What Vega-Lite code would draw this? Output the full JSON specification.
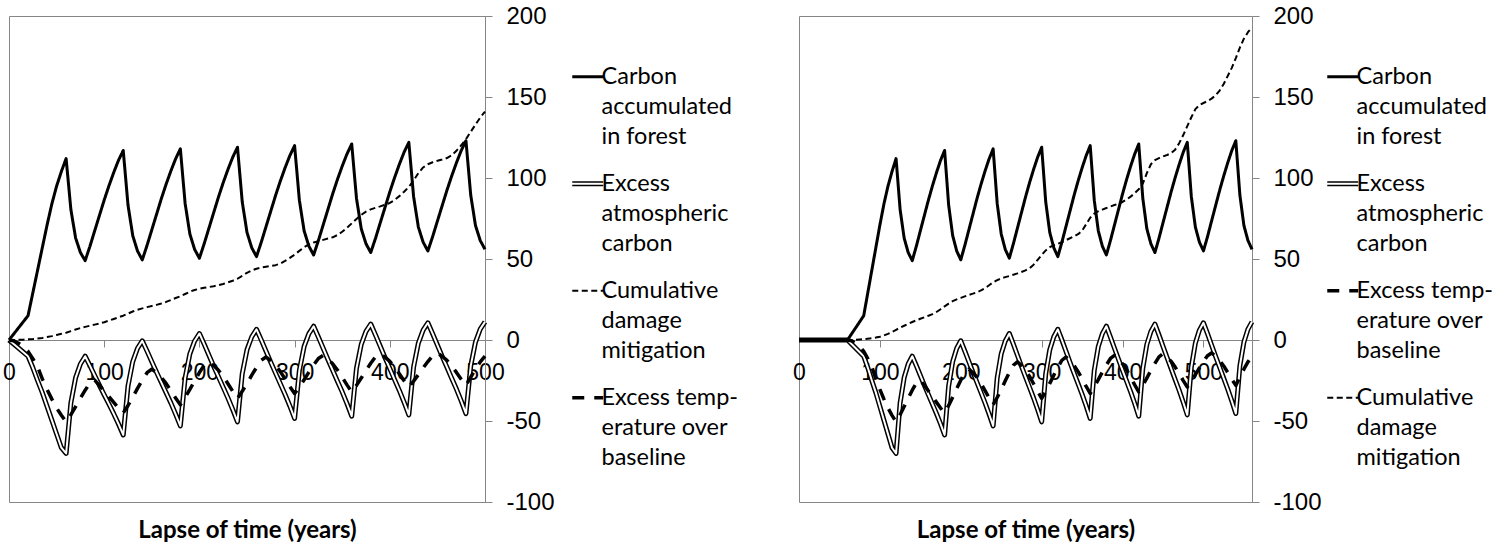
{
  "$schema": "https://vega.github.io/schema/vega-lite/v6.json",
  "background": "white",
  "padding": {"left": 2, "top": 3, "right": 0, "bottom": 0},
  "datasets": {
    "left": [
      {"t":0,"carbon":0,"atm":0,"cum":0,"temp":0},
      {"t":5,"carbon":null,"atm":null,"cum":0,"temp":-0.5},
      {"t":10,"carbon":null,"atm":null,"cum":0.1,"temp":-2},
      {"t":15,"carbon":null,"atm":null,"cum":0.2,"temp":-4},
      {"t":20,"carbon":15,"atm":-10,"cum":0.4,"temp":-7},
      {"t":25,"carbon":29,"atm":-17,"cum":0.6,"temp":-11.5},
      {"t":30,"carbon":43,"atm":-25,"cum":0.9,"temp":-16.5},
      {"t":35,"carbon":57,"atm":-32.5,"cum":1.3,"temp":-24},
      {"t":40,"carbon":71,"atm":-41,"cum":1.8,"temp":-30.5},
      {"t":45,"carbon":84,"atm":-49.5,"cum":2.4,"temp":-36.5},
      {"t":50,"carbon":95,"atm":-58,"cum":3.1,"temp":-42},
      {"t":55,"carbon":104,"atm":-66.5,"cum":3.8,"temp":-46.5},
      {"t":60,"carbon":112,"atm":-70,"cum":4.5,"temp":-50.5},
      {"t":65,"carbon":80.5,"atm":-38.8,"cum":5.5,"temp":-46.1},
      {"t":70,"carbon":62.9,"atm":-23.2,"cum":6.5,"temp":-41.1},
      {"t":75,"carbon":54,"atm":-14.8,"cum":7.4,"temp":-35.9},
      {"t":80,"carbon":49,"atm":-10,"cum":8.1,"temp":-31},
      {"t":85,"carbon":57.8,"atm":-15.8,"cum":8.8,"temp":-26.6},
      {"t":90,"carbon":67.4,"atm":-21.9,"cum":9.5,"temp":-24.8},
      {"t":95,"carbon":76.9,"atm":-28,"cum":10.2,"temp":-28},
      {"t":100,"carbon":86.4,"atm":-33.8,"cum":11,"temp":-31.5},
      {"t":105,"carbon":95.2,"atm":-39.6,"cum":12,"temp":-35},
      {"t":110,"carbon":103.4,"atm":-45.5,"cum":13,"temp":-38.5},
      {"t":115,"carbon":110.9,"atm":-51.8,"cum":14,"temp":-42},
      {"t":120,"carbon":117,"atm":-58.6,"cum":15,"temp":-45},
      {"t":125,"carbon":83.3,"atm":-28.4,"cum":16.3,"temp":-40.4},
      {"t":130,"carbon":64.4,"atm":-13.3,"cum":17.6,"temp":-35.3},
      {"t":135,"carbon":54.9,"atm":-5.1,"cum":18.7,"temp":-29.9},
      {"t":140,"carbon":49.5,"atm":-0.5,"cum":19.5,"temp":-24.8},
      {"t":145,"carbon":58.4,"atm":-6.8,"cum":20.3,"temp":-20.2},
      {"t":150,"carbon":68,"atm":-13.4,"cum":21,"temp":-18},
      {"t":155,"carbon":77.6,"atm":-19.9,"cum":21.7,"temp":-20.2},
      {"t":160,"carbon":87.2,"atm":-26.2,"cum":22.5,"temp":-23.1},
      {"t":165,"carbon":96.1,"atm":-32.5,"cum":23.5,"temp":-26.8},
      {"t":170,"carbon":104.3,"atm":-38.8,"cum":24.7,"temp":-31.2},
      {"t":175,"carbon":111.8,"atm":-45.7,"cum":25.9,"temp":-35.8},
      {"t":180,"carbon":118,"atm":-53,"cum":27,"temp":-40},
      {"t":185,"carbon":84.3,"atm":-23.4,"cum":28.4,"temp":-35.5},
      {"t":190,"carbon":65.4,"atm":-8.5,"cum":29.8,"temp":-30.5},
      {"t":195,"carbon":55.9,"atm":-0.6,"cum":30.9,"temp":-25.2},
      {"t":200,"carbon":50.5,"atm":4,"cum":31.6,"temp":-20.1},
      {"t":205,"carbon":59.4,"atm":-2.5,"cum":32.2,"temp":-15.6},
      {"t":210,"carbon":69,"atm":-9.4,"cum":32.7,"temp":-13.5},
      {"t":215,"carbon":78.6,"atm":-16.2,"cum":33.2,"temp":-15.8},
      {"t":220,"carbon":88.2,"atm":-22.7,"cum":33.8,"temp":-18.7},
      {"t":225,"carbon":97.1,"atm":-29.2,"cum":34.6,"temp":-22.5},
      {"t":230,"carbon":105.3,"atm":-35.8,"cum":35.6,"temp":-27},
      {"t":235,"carbon":112.8,"atm":-42.9,"cum":36.6,"temp":-31.7},
      {"t":240,"carbon":119,"atm":-50.5,"cum":37.8,"temp":-36},
      {"t":245,"carbon":85.3,"atm":-20.8,"cum":39.6,"temp":-31.7},
      {"t":250,"carbon":66.4,"atm":-6,"cum":41.5,"temp":-26.8},
      {"t":255,"carbon":56.9,"atm":2,"cum":43,"temp":-21.7},
      {"t":260,"carbon":51.5,"atm":6.6,"cum":44,"temp":-16.9},
      {"t":265,"carbon":60.4,"atm":0,"cum":44.7,"temp":-12.5},
      {"t":270,"carbon":70,"atm":-6.9,"cum":45.2,"temp":-10.5},
      {"t":275,"carbon":79.6,"atm":-13.8,"cum":45.7,"temp":-12.8},
      {"t":280,"carbon":89.2,"atm":-20.4,"cum":46.2,"temp":-15.7},
      {"t":285,"carbon":98.1,"atm":-27,"cum":47.2,"temp":-19.5},
      {"t":290,"carbon":106.3,"atm":-33.6,"cum":48.8,"temp":-24},
      {"t":295,"carbon":113.8,"atm":-40.7,"cum":50.7,"temp":-28.7},
      {"t":300,"carbon":120,"atm":-48.4,"cum":52.7,"temp":-33},
      {"t":305,"carbon":86.3,"atm":-18.8,"cum":55,"temp":-29},
      {"t":310,"carbon":67.4,"atm":-4,"cum":57.3,"temp":-24.5},
      {"t":315,"carbon":57.9,"atm":3.9,"cum":59,"temp":-19.8},
      {"t":320,"carbon":52.5,"atm":8.5,"cum":60.2,"temp":-15.4},
      {"t":325,"carbon":61.4,"atm":1.8,"cum":61,"temp":-11.4},
      {"t":330,"carbon":71,"atm":-5.1,"cum":61.8,"temp":-9.5},
      {"t":335,"carbon":80.6,"atm":-12,"cum":62.6,"temp":-11.8},
      {"t":340,"carbon":90.2,"atm":-18.7,"cum":63.4,"temp":-14.7},
      {"t":345,"carbon":99.1,"atm":-25.4,"cum":64.8,"temp":-18.5},
      {"t":350,"carbon":107.3,"atm":-32,"cum":66.8,"temp":-23},
      {"t":355,"carbon":114.8,"atm":-39.2,"cum":69.3,"temp":-27.7},
      {"t":360,"carbon":121,"atm":-47,"cum":72,"temp":-32},
      {"t":365,"carbon":87.5,"atm":-17.5,"cum":74.7,"temp":-28},
      {"t":370,"carbon":68.7,"atm":-2.7,"cum":77.2,"temp":-23.5},
      {"t":375,"carbon":59.4,"atm":5.3,"cum":79.2,"temp":-18.8},
      {"t":380,"carbon":54,"atm":9.8,"cum":80.6,"temp":-14.4},
      {"t":385,"carbon":62.8,"atm":3.1,"cum":81.6,"temp":-10.4},
      {"t":390,"carbon":72.4,"atm":-3.9,"cum":82.5,"temp":-8.5},
      {"t":395,"carbon":81.9,"atm":-10.9,"cum":83.5,"temp":-10.6},
      {"t":400,"carbon":91.4,"atm":-17.6,"cum":84.6,"temp":-13.2},
      {"t":405,"carbon":100.2,"atm":-24.4,"cum":86.4,"temp":-16.7},
      {"t":410,"carbon":108.4,"atm":-31.1,"cum":88.8,"temp":-20.8},
      {"t":415,"carbon":115.9,"atm":-38.4,"cum":91.5,"temp":-25.1},
      {"t":420,"carbon":122,"atm":-46.2,"cum":94.5,"temp":-29},
      {"t":425,"carbon":88.5,"atm":-16.7,"cum":98.5,"temp":-25.4},
      {"t":430,"carbon":69.7,"atm":-1.9,"cum":103,"temp":-21.4},
      {"t":435,"carbon":60.4,"atm":6.1,"cum":106.5,"temp":-17.2},
      {"t":440,"carbon":55,"atm":10.6,"cum":108.5,"temp":-13.3},
      {"t":445,"carbon":63.8,"atm":3.9,"cum":109.7,"temp":-9.7},
      {"t":450,"carbon":73.4,"atm":-3.1,"cum":110.6,"temp":-8},
      {"t":455,"carbon":82.9,"atm":-10.1,"cum":111.4,"temp":-10},
      {"t":460,"carbon":92.4,"atm":-16.8,"cum":112.3,"temp":-12.6},
      {"t":465,"carbon":101.2,"atm":-23.6,"cum":114,"temp":-16},
      {"t":470,"carbon":109.4,"atm":-30.3,"cum":116.8,"temp":-20},
      {"t":475,"carbon":116.9,"atm":-37.6,"cum":120.2,"temp":-24.2},
      {"t":480,"carbon":123,"atm":-45.4,"cum":124,"temp":-28},
      {"t":485,"carbon":89.5,"atm":-16,"cum":128.5,"temp":-23},
      {"t":490,"carbon":70.7,"atm":-1.3,"cum":133,"temp":-18},
      {"t":495,"carbon":61.4,"atm":6.7,"cum":137.3,"temp":-13.5},
      {"t":500,"carbon":56,"atm":11.2,"cum":141,"temp":-10}
    ],
    "right": [
      {"t":0,"carbon":0,"atm":0,"cum":0,"temp":0},
      {"t":60,"carbon":0,"atm":0,"cum":0,"temp":0},
      {"t":65,"carbon":null,"atm":null,"cum":0,"temp":-0.5},
      {"t":70,"carbon":null,"atm":null,"cum":0.1,"temp":-2},
      {"t":75,"carbon":null,"atm":null,"cum":0.3,"temp":-4},
      {"t":80,"carbon":15,"atm":-10,"cum":0.5,"temp":-7},
      {"t":85,"carbon":29,"atm":-17,"cum":0.8,"temp":-11.5},
      {"t":90,"carbon":43,"atm":-25,"cum":1.1,"temp":-16.5},
      {"t":95,"carbon":57,"atm":-32.5,"cum":1.5,"temp":-24},
      {"t":100,"carbon":71,"atm":-41,"cum":2,"temp":-30.5},
      {"t":105,"carbon":84,"atm":-49.5,"cum":2.8,"temp":-36.5},
      {"t":110,"carbon":95,"atm":-58,"cum":3.8,"temp":-42},
      {"t":115,"carbon":104,"atm":-66.5,"cum":5,"temp":-46.5},
      {"t":120,"carbon":112,"atm":-70,"cum":6.3,"temp":-50.5},
      {"t":125,"carbon":80.5,"atm":-38.8,"cum":7.6,"temp":-46.1},
      {"t":130,"carbon":62.9,"atm":-23.2,"cum":8.8,"temp":-41.1},
      {"t":135,"carbon":54,"atm":-14.8,"cum":10,"temp":-35.9},
      {"t":140,"carbon":49,"atm":-10,"cum":11.1,"temp":-31},
      {"t":145,"carbon":57.8,"atm":-15.8,"cum":12.1,"temp":-26.6},
      {"t":150,"carbon":67.4,"atm":-21.9,"cum":13.1,"temp":-24.8},
      {"t":155,"carbon":76.9,"atm":-28,"cum":14,"temp":-28},
      {"t":160,"carbon":86.4,"atm":-33.8,"cum":15,"temp":-31.5},
      {"t":165,"carbon":95.2,"atm":-39.6,"cum":16,"temp":-35},
      {"t":170,"carbon":103.4,"atm":-45.5,"cum":17.3,"temp":-38.5},
      {"t":175,"carbon":110.9,"atm":-51.8,"cum":19,"temp":-42},
      {"t":180,"carbon":117,"atm":-58.6,"cum":20.8,"temp":-45},
      {"t":185,"carbon":83.3,"atm":-28.4,"cum":22.5,"temp":-40.4},
      {"t":190,"carbon":64.4,"atm":-13.3,"cum":24,"temp":-35.3},
      {"t":195,"carbon":54.9,"atm":-5.1,"cum":25.1,"temp":-29.9},
      {"t":200,"carbon":49.5,"atm":-0.5,"cum":26,"temp":-24.8},
      {"t":205,"carbon":58.4,"atm":-6.8,"cum":26.9,"temp":-20.2},
      {"t":210,"carbon":68,"atm":-13.4,"cum":27.8,"temp":-18},
      {"t":215,"carbon":77.6,"atm":-19.9,"cum":28.6,"temp":-20.2},
      {"t":220,"carbon":87.2,"atm":-26.2,"cum":29.5,"temp":-23.1},
      {"t":225,"carbon":96.1,"atm":-32.5,"cum":30.6,"temp":-26.8},
      {"t":230,"carbon":104.3,"atm":-38.8,"cum":32,"temp":-31.2},
      {"t":235,"carbon":111.8,"atm":-45.7,"cum":33.8,"temp":-35.8},
      {"t":240,"carbon":118,"atm":-53,"cum":35.6,"temp":-40},
      {"t":245,"carbon":84.3,"atm":-23.4,"cum":37,"temp":-35.5},
      {"t":250,"carbon":65.4,"atm":-8.5,"cum":38,"temp":-30.5},
      {"t":255,"carbon":55.9,"atm":-0.6,"cum":38.8,"temp":-25.2},
      {"t":260,"carbon":50.5,"atm":4,"cum":39.5,"temp":-20.1},
      {"t":265,"carbon":59.4,"atm":-2.5,"cum":40.3,"temp":-15.6},
      {"t":270,"carbon":69,"atm":-9.4,"cum":41.1,"temp":-13.5},
      {"t":275,"carbon":78.6,"atm":-16.2,"cum":42,"temp":-15.8},
      {"t":280,"carbon":88.2,"atm":-22.7,"cum":43,"temp":-18.7},
      {"t":285,"carbon":97.1,"atm":-29.2,"cum":44.3,"temp":-22.5},
      {"t":290,"carbon":105.3,"atm":-35.8,"cum":46.5,"temp":-27},
      {"t":295,"carbon":112.8,"atm":-42.9,"cum":49.5,"temp":-31.7},
      {"t":300,"carbon":119,"atm":-50.5,"cum":52.5,"temp":-36},
      {"t":305,"carbon":85.3,"atm":-20.8,"cum":55.3,"temp":-31.7},
      {"t":310,"carbon":66.4,"atm":-6,"cum":57.3,"temp":-26.8},
      {"t":315,"carbon":56.9,"atm":2,"cum":58.5,"temp":-21.7},
      {"t":320,"carbon":51.5,"atm":6.6,"cum":59.4,"temp":-16.9},
      {"t":325,"carbon":60.4,"atm":0,"cum":60.4,"temp":-12.5},
      {"t":330,"carbon":70,"atm":-6.9,"cum":61.6,"temp":-10.5},
      {"t":335,"carbon":79.6,"atm":-13.8,"cum":62.8,"temp":-12.8},
      {"t":340,"carbon":89.2,"atm":-20.4,"cum":64,"temp":-15.7},
      {"t":345,"carbon":98.1,"atm":-27,"cum":65.3,"temp":-19.5},
      {"t":350,"carbon":106.3,"atm":-33.6,"cum":67.5,"temp":-24},
      {"t":355,"carbon":113.8,"atm":-40.7,"cum":71.5,"temp":-28.7},
      {"t":360,"carbon":120,"atm":-48.4,"cum":75.5,"temp":-33},
      {"t":365,"carbon":86.3,"atm":-18.8,"cum":78,"temp":-29},
      {"t":370,"carbon":67.4,"atm":-4,"cum":79.5,"temp":-24.5},
      {"t":375,"carbon":57.9,"atm":3.9,"cum":80.5,"temp":-19.8},
      {"t":380,"carbon":52.5,"atm":8.5,"cum":81.5,"temp":-15.4},
      {"t":385,"carbon":61.4,"atm":1.8,"cum":82.4,"temp":-11.4},
      {"t":390,"carbon":71,"atm":-5.1,"cum":83.3,"temp":-9.5},
      {"t":395,"carbon":80.6,"atm":-12,"cum":84.2,"temp":-11.8},
      {"t":400,"carbon":90.2,"atm":-18.7,"cum":85.2,"temp":-14.7},
      {"t":405,"carbon":99.1,"atm":-25.4,"cum":86.7,"temp":-18.5},
      {"t":410,"carbon":107.3,"atm":-32,"cum":88.5,"temp":-23},
      {"t":415,"carbon":114.8,"atm":-39.2,"cum":90.6,"temp":-27.7},
      {"t":420,"carbon":121,"atm":-47,"cum":93,"temp":-32},
      {"t":425,"carbon":87.5,"atm":-17.5,"cum":96.5,"temp":-28},
      {"t":430,"carbon":68.7,"atm":-2.7,"cum":103,"temp":-23.5},
      {"t":435,"carbon":59.4,"atm":5.3,"cum":108.5,"temp":-18.8},
      {"t":440,"carbon":54,"atm":9.8,"cum":111,"temp":-14.4},
      {"t":445,"carbon":62.8,"atm":3.1,"cum":112.3,"temp":-10.4},
      {"t":450,"carbon":72.4,"atm":-3.9,"cum":113.3,"temp":-8.5},
      {"t":455,"carbon":81.9,"atm":-10.9,"cum":114.2,"temp":-10.6},
      {"t":460,"carbon":91.4,"atm":-17.6,"cum":115.3,"temp":-13.2},
      {"t":465,"carbon":100.2,"atm":-24.4,"cum":117.5,"temp":-16.7},
      {"t":470,"carbon":108.4,"atm":-31.1,"cum":121.5,"temp":-20.8},
      {"t":475,"carbon":115.9,"atm":-38.4,"cum":126.5,"temp":-25.1},
      {"t":480,"carbon":122,"atm":-46.2,"cum":132,"temp":-29},
      {"t":485,"carbon":88.5,"atm":-16.7,"cum":137.5,"temp":-25.4},
      {"t":490,"carbon":69.7,"atm":-1.9,"cum":142.5,"temp":-21.4},
      {"t":495,"carbon":60.4,"atm":6.1,"cum":145,"temp":-17.2},
      {"t":500,"carbon":55,"atm":10.6,"cum":146.3,"temp":-13.3},
      {"t":505,"carbon":63.8,"atm":3.9,"cum":147.5,"temp":-9.7},
      {"t":510,"carbon":73.4,"atm":-3.1,"cum":149,"temp":-8},
      {"t":515,"carbon":82.9,"atm":-10.1,"cum":151,"temp":-10},
      {"t":520,"carbon":92.4,"atm":-16.8,"cum":154,"temp":-12.6},
      {"t":525,"carbon":101.2,"atm":-23.6,"cum":158,"temp":-16},
      {"t":530,"carbon":109.4,"atm":-30.3,"cum":163,"temp":-20},
      {"t":535,"carbon":116.9,"atm":-37.6,"cum":168,"temp":-24.2},
      {"t":540,"carbon":123,"atm":-45.4,"cum":174,"temp":-28},
      {"t":545,"carbon":89.5,"atm":-16,"cum":180.5,"temp":-23},
      {"t":550,"carbon":70.7,"atm":-1.3,"cum":186,"temp":-18},
      {"t":555,"carbon":61.4,"atm":6.7,"cum":190,"temp":-13.5},
      {"t":560,"carbon":56,"atm":11.2,"cum":193,"temp":-10}
    ]
  },
  "hconcat": [
    {
      "width": 476,
      "height": 486,
      "data": {"name": "left"},
      "transform": [{"fold": ["carbon", "atm", "cum", "temp"], "as": ["series", "v"]}],
      "encoding": {
        "x": {
          "field": "t", "type": "quantitative",
          "scale": {"domain": [0, 500], "nice": false, "zero": false},
          "axis": {"values": [0, 100, 200, 300, 400, 500], "offset": -162, "labelFont": "Liberation Sans", "labelFontSize": 23, "labelPadding": 14, "title": "Lapse of time (years)", "titleY": 190}
        },
        "y": {
          "field": "v", "type": "quantitative",
          "scale": {"domain": [-100, 200], "nice": false, "zero": false},
          "axis": {"orient": "right", "values": [-100, -50, 0, 50, 100, 150, 200], "labelExpr": "datum.value < 0 ? '-' + abs(datum.value) : '' + datum.value", "labelFont": "Liberation Sans", "labelFontSize": 24, "labelPadding": 14, "title": null}
        }
      },
      "layer": [
        {
          "data": {"values": [{}]},
          "transform": [],
          "mark": {"type": "rule", "color": "black", "strokeWidth": 1},
          "encoding": {"x": {"datum": 0}, "y": {"datum": -100}, "y2": {"datum": 200}}
        },
        {
          "transform": [{"filter": "datum.series == 'atm' && isValid(datum.v)"}],
          "mark": {"type": "line", "color": "black", "strokeWidth": 5, "strokeJoin": "round"}
        },
        {
          "transform": [{"filter": "datum.series == 'atm' && isValid(datum.v)"}],
          "mark": {"type": "line", "color": "white", "strokeWidth": 2, "strokeJoin": "round"}
        },
        {
          "transform": [{"filter": "datum.series == 'cum' && isValid(datum.v)"}],
          "mark": {"type": "line", "color": "black", "strokeWidth": 2, "strokeJoin": "round"},
          "encoding": {
            "strokeDash": {
              "field": "series", "type": "nominal",
              "scale": {"domain": ["carbon", "atm", "cum", "temp"], "range": [[1, 0], [1, 0], [6, 3.5], [12, 10]]},
              "legend": {
                "orient": "none", "legendX": 567, "legendY": 49, "direction": "vertical", "title": null, "padding": 0,
                "symbolType": "stroke", "symbolSize": 961, "symbolStrokeColor": "black", "symbolOffset": 0,
                "labelFont": "Lato", "labelFontSize": 23.5, "labelColor": "black", "labelLimit": 300, "labelOffset": 2,
                "rowPadding": 22,
                "labelExpr": "datum.value == 'carbon' ? ['Carbon', 'accumulated', 'in forest'] : datum.value == 'atm' ? ['Excess', 'atmospheric', 'carbon'] : datum.value == 'cum' ? ['Cumulative', 'damage', 'mitigation'] : ['Excess temp-', 'erature over', 'baseline']",
                "encode": {
                  "labels": {"update": {"lineHeight": {"value": 30}}},
                  "symbols": {"update": {
                    "strokeWidth": {"signal": "datum.value == 'carbon' ? 3 : datum.value == 'atm' ? 1.4 : datum.value == 'cum' ? 2 : 3.5"},
                    "shape": {"signal": "datum.value == 'atm' ? 'M-1,-0.11H1M-1,0.11H1' : 'stroke'"}
                  }}
                }
              }
            }
          }
        },
        {
          "transform": [{"filter": "datum.series == 'temp' && isValid(datum.v)"}],
          "mark": {"type": "line", "color": "black", "strokeWidth": 3.5, "strokeJoin": "round"},
          "encoding": {
            "strokeDash": {
              "field": "series", "type": "nominal",
              "scale": {"domain": ["carbon", "atm", "cum", "temp"], "range": [[1, 0], [1, 0], [6, 3.5], [12, 10]]}
            }
          }
        },
        {
          "transform": [{"filter": "datum.series == 'carbon' && isValid(datum.v)"}],
          "mark": {"type": "line", "color": "black", "strokeWidth": 3, "strokeJoin": "round"},
          "encoding": {
            "strokeDash": {
              "field": "series", "type": "nominal",
              "scale": {"domain": ["carbon", "atm", "cum", "temp"], "range": [[1, 0], [1, 0], [6, 3.5], [12, 10]]}
            }
          }
        }
      ]
    },
    {
      "width": 453,
      "height": 486,
      "data": {"name": "right"},
      "transform": [{"fold": ["carbon", "atm", "cum", "temp"], "as": ["series", "v"]}],
      "encoding": {
        "x": {
          "field": "t", "type": "quantitative",
          "scale": {"domain": [0, 560], "nice": false, "zero": false},
          "axis": {"values": [0, 100, 200, 300, 400, 500], "offset": -162, "labelFont": "Liberation Sans", "labelFontSize": 23, "labelPadding": 14, "title": "Lapse of time (years)", "titleY": 190}
        },
        "y": {
          "field": "v", "type": "quantitative",
          "scale": {"domain": [-100, 200], "nice": false, "zero": false},
          "axis": {"orient": "right", "values": [-100, -50, 0, 50, 100, 150, 200], "labelExpr": "datum.value < 0 ? '-' + abs(datum.value) : '' + datum.value", "labelFont": "Liberation Sans", "labelFontSize": 24, "labelPadding": 14, "title": null}
        }
      },
      "layer": [
        {
          "data": {"values": [{}]},
          "transform": [],
          "mark": {"type": "rule", "color": "black", "strokeWidth": 1},
          "encoding": {"x": {"datum": 0}, "y": {"datum": -100}, "y2": {"datum": 200}}
        },
        {
          "transform": [{"filter": "datum.series == 'atm' && isValid(datum.v)"}],
          "mark": {"type": "line", "color": "black", "strokeWidth": 5, "strokeJoin": "round"}
        },
        {
          "transform": [{"filter": "datum.series == 'atm' && isValid(datum.v)"}],
          "mark": {"type": "line", "color": "white", "strokeWidth": 2, "strokeJoin": "round"}
        },
        {
          "transform": [{"filter": "datum.series == 'cum' && isValid(datum.v)"}],
          "mark": {"type": "line", "color": "black", "strokeWidth": 2, "strokeJoin": "round"},
          "encoding": {
            "strokeDash": {
              "field": "series", "type": "nominal",
              "scale": {"domain": ["carbon", "atm", "temp", "cum"], "range": [[1, 0], [1, 0], [12, 10], [6, 3.5]]},
              "legend": {
                "orient": "none", "legendX": 532, "legendY": 49, "direction": "vertical", "title": null, "padding": 0,
                "symbolType": "stroke", "symbolSize": 961, "symbolStrokeColor": "black", "symbolOffset": 0,
                "labelFont": "Lato", "labelFontSize": 23.5, "labelColor": "black", "labelLimit": 300, "labelOffset": 2,
                "rowPadding": 22,
                "labelExpr": "datum.value == 'carbon' ? ['Carbon', 'accumulated', 'in forest'] : datum.value == 'atm' ? ['Excess', 'atmospheric', 'carbon'] : datum.value == 'cum' ? ['Cumulative', 'damage', 'mitigation'] : ['Excess temp-', 'erature over', 'baseline']",
                "encode": {
                  "labels": {"update": {"lineHeight": {"value": 30}}},
                  "symbols": {"update": {
                    "strokeWidth": {"signal": "datum.value == 'carbon' ? 3 : datum.value == 'atm' ? 1.4 : datum.value == 'cum' ? 2 : 3.5"},
                    "shape": {"signal": "datum.value == 'atm' ? 'M-1,-0.11H1M-1,0.11H1' : 'stroke'"}
                  }}
                }
              }
            }
          }
        },
        {
          "transform": [{"filter": "datum.series == 'temp' && isValid(datum.v)"}],
          "mark": {"type": "line", "color": "black", "strokeWidth": 3.5, "strokeJoin": "round"},
          "encoding": {
            "strokeDash": {
              "field": "series", "type": "nominal",
              "scale": {"domain": ["carbon", "atm", "temp", "cum"], "range": [[1, 0], [1, 0], [12, 10], [6, 3.5]]}
            }
          }
        },
        {
          "transform": [{"filter": "datum.series == 'carbon' && isValid(datum.v)"}],
          "mark": {"type": "line", "color": "black", "strokeWidth": 3, "strokeJoin": "round"},
          "encoding": {
            "strokeDash": {
              "field": "series", "type": "nominal",
              "scale": {"domain": ["carbon", "atm", "temp", "cum"], "range": [[1, 0], [1, 0], [12, 10], [6, 3.5]]}
            }
          }
        }
      ]
    }
  ],
  "spacing": 314,
  "bounds": "flush",
  "resolve": {"scale": {"strokeDash": "independent"}},
  "config": {
    "view": {"stroke": "#868686", "strokeWidth": 1},
    "axis": {
      "domainColor": "#868686", "tickColor": "#868686", "tickSize": 7, "grid": false,
      "labelColor": "black", "labelFont": "Liberation Sans",
      "labelFlush": false, "labelOverlap": false, "labelBound": false,
      "titleFont": "Lato", "titleFontWeight": "bold", "titleFontSize": 24, "titleColor": "black", "titleBaseline": "middle"
    }
  }
}
